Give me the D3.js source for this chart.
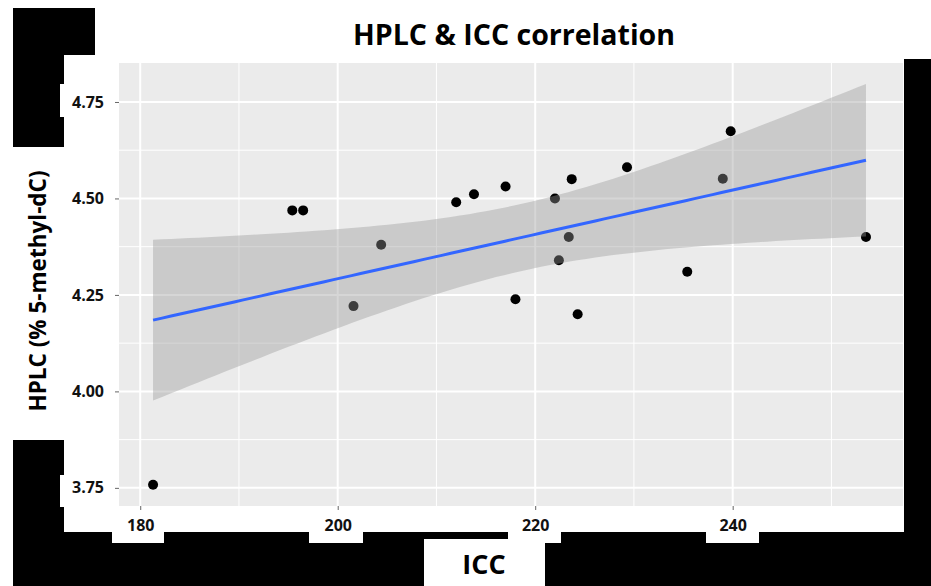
<!DOCTYPE html>
<html>
<head>
<meta charset="utf-8">
<script src="https://cdn.jsdelivr.net/npm/d3@7"></script>
<style>
  body { margin: 0; background: #fff; }
  svg { display: block; }
  text { font-family: "Open Sans", sans-serif; font-weight: bold; }
</style>
</head>
<body>
<script>
// data
var icc  = [181.3, 195.4, 196.5, 204.4, 201.6, 212.0, 213.8, 217.0, 218.0, 222.0,
            223.7, 223.4, 222.4, 224.3, 229.3, 239.8, 239.0, 235.4, 253.5];
var hplc = [3.758, 4.469, 4.469, 4.380, 4.221, 4.490, 4.511, 4.531, 4.239, 4.500,
            4.550, 4.400, 4.340, 4.200, 4.581, 4.674, 4.551, 4.310, 4.400];
var xTicks = [180, 200, 220, 240];
var xMinor = [190, 210, 230, 250];
var yTicks = [3.75, 4.00, 4.25, 4.50, 4.75];
var yMinor = [3.875, 4.125, 4.375, 4.625];
var title = "HPLC & ICC correlation";

var W = 931, H = 586;
var pL = 119, pR = 903, pT = 63, pB = 506;

var svg = d3.select("body").append("svg")
    .attr("width", W)
    .attr("height", H);

var x = d3.scaleLinear().domain([177.85, 257.25]).range([pL, pR]);
var y = d3.scaleLinear().domain([3.703, 4.851]).range([pB, pT]);

// panel
svg.append("rect")
    .attr("x", pL).attr("y", pT)
    .attr("width", pR - pL).attr("height", pB - pT)
    .attr("fill", "#ebebeb");

var grid = svg.append("g");
grid.selectAll(".xmin").data(xMinor).enter().append("line")
    .attr("x1", d => x(d)).attr("x2", d => x(d))
    .attr("y1", pT).attr("y2", pB)
    .attr("stroke", "#fff").attr("stroke-width", 1);
grid.selectAll(".ymin").data(yMinor).enter().append("line")
    .attr("y1", d => y(d)).attr("y2", d => y(d))
    .attr("x1", pL).attr("x2", pR)
    .attr("stroke", "#fff").attr("stroke-width", 1);
grid.selectAll(".xmaj").data(xTicks).enter().append("line")
    .attr("x1", d => x(d)).attr("x2", d => x(d))
    .attr("y1", pT).attr("y2", pB)
    .attr("stroke", "#fff").attr("stroke-width", 2);
grid.selectAll(".ymaj").data(yTicks).enter().append("line")
    .attr("y1", d => y(d)).attr("y2", d => y(d))
    .attr("x1", pL).attr("x2", pR)
    .attr("stroke", "#fff").attr("stroke-width", 2);

// points (drawn below the ribbon, like ggplot's order here)
svg.selectAll(".pt").data(icc).enter().append("circle")
    .attr("cx", d => x(d))
    .attr("cy", (d, i) => y(hplc[i]))
    .attr("r", 5)
    .attr("fill", "#000");

// linear fit with 95% confidence band (geom_smooth, method = lm)
var n = icc.length;
var mx = d3.mean(icc), my = d3.mean(hplc);
var sxx = d3.sum(icc, d => (d - mx) * (d - mx));
var sxy = d3.sum(icc, (d, i) => (d - mx) * (hplc[i] - my));
var slope = sxy / sxx, icpt = my - slope * mx;
var sse = d3.sum(icc, (d, i) => Math.pow(hplc[i] - (icpt + slope * d), 2));
var s = Math.sqrt(sse / (n - 2));
var tCrit = 2.11; // t(0.975, df = 17)

var xs = d3.range(80).map(i => d3.min(icc) + i * (d3.max(icc) - d3.min(icc)) / 79);
var fit = xs.map(function(xv) {
    var yh = icpt + slope * xv;
    var se = s * Math.sqrt(1 / n + (xv - mx) * (xv - mx) / sxx);
    return { x: xv, y: yh, lo: yh - tCrit * se, hi: yh + tCrit * se };
});

svg.append("path")
    .datum(fit)
    .attr("fill", "#999999")
    .attr("fill-opacity", 0.4)
    .attr("d", d3.area().x(d => x(d.x)).y0(d => y(d.lo)).y1(d => y(d.hi)));

svg.append("path")
    .datum(fit)
    .attr("fill", "none")
    .attr("stroke", "#3366ff")
    .attr("stroke-width", 3)
    .attr("d", d3.line().x(d => x(d.x)).y(d => y(d.y)));

// axes
var yAxis = svg.append("g")
    .attr("transform", "translate(" + pL + ",0)")
    .call(d3.axisLeft(y).tickValues(yTicks).tickFormat(d3.format(".2f")).tickSize(4).tickPadding(11));
var xAxis = svg.append("g")
    .attr("transform", "translate(0," + pB + ")")
    .call(d3.axisBottom(x).tickValues(xTicks).tickSize(4).tickPadding(10));
[xAxis, yAxis].forEach(function(g) {
    g.select(".domain").remove();
    g.selectAll(".tick line").attr("stroke", "#666");
    g.selectAll(".tick text")
        .attr("fill", "#111")
        .style("font-size", "16px")
        .style("font-family", "'Open Sans', sans-serif")
        .style("font-weight", "bold");
});

// black overlay blocks of the original picture
var blk = svg.append("g");
function box(x0, y0, x1, y1, c) {
    blk.append("rect").attr("x", x0).attr("y", y0)
        .attr("width", x1 - x0).attr("height", y1 - y0).attr("fill", c);
}
box(13, 8, 95, 55, "#000");
box(13, 55, 64, 147, "#000");
box(60, 84, 64, 117, "#fff");
box(13, 440, 64, 586, "#000");
box(60, 475, 64, 507, "#fff");
box(13, 532, 931, 586, "#000");
box(904, 59, 931, 586, "#000");
box(112, 531, 164, 543, "#fff");
box(309, 531, 363, 543, "#fff");
box(508, 531, 561, 543, "#fff");
box(706, 531, 759, 543, "#fff");
box(424, 539, 545, 586, "#fff");

// titles
svg.append("text")
    .attr("x", 514).attr("y", 45)
    .attr("text-anchor", "middle")
    .style("font-size", "29px")
    .attr("textLength", 322)
    .attr("lengthAdjust", "spacingAndGlyphs")
    .text(title);

svg.append("text")
    .attr("x", 484).attr("y", 574)
    .attr("text-anchor", "middle")
    .style("font-size", "27px")
    .text("ICC");

svg.append("text")
    .attr("transform", "translate(46,291) rotate(-90)")
    .attr("text-anchor", "middle")
    .style("font-size", "22.5px")
    .text("HPLC (% 5-methyl-dC)");
</script>
</body>
</html>
